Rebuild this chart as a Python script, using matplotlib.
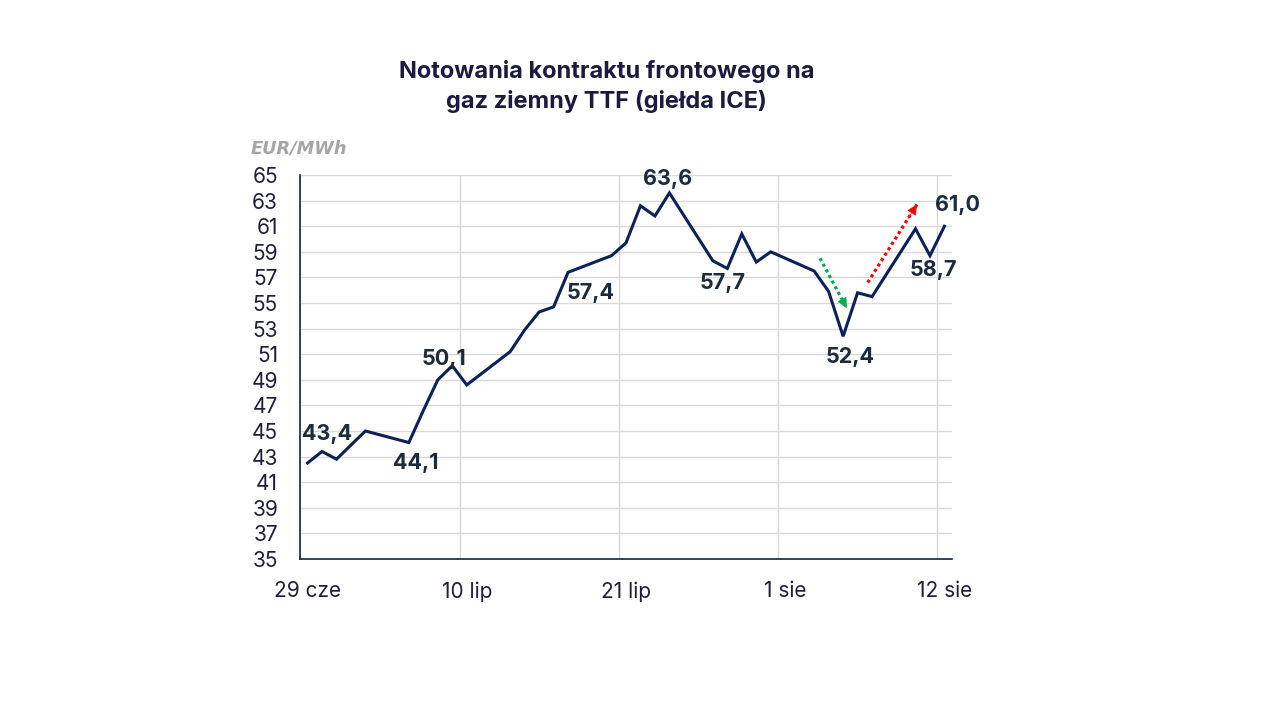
import numpy as np
from matplotlib import pyplot as plt

# notowania TTF, dni liczone od 29 cze (tylko dni sesyjne)
dni = [0, 1, 2, 3, 4, 7, 8, 9, 10, 11, 14, 15, 16, 17, 18, 21, 22, 23, 24, 25,
       28, 29, 30, 31, 32, 35, 36, 37, 38, 39, 42, 43, 44]
ceny = [42.5, 43.4, 42.8, 43.9, 45.0, 44.1, 46.6, 49.0, 50.1, 48.6, 51.2, 52.9,
        54.3, 54.7, 57.4, 58.7, 59.7, 62.6, 61.8, 63.6, 58.3, 57.7, 60.4, 58.2,
        59.0, 57.5, 55.9, 52.4, 55.8, 55.5, 60.8, 58.7, 61.0]

tick_dni = [0, 11, 22, 33, 44]
tick_etykiety = ['29 cze', '10 lip', '21 lip', '1 sie', '12 sie']

# punkty z etykieta i przesuniecie etykiety (piksele)
etyk_idx = [1, 5, 8, 14, 19, 21, 27, 31, 32]
etyk_off = [(5, 17), (7, -20), (-8, 7), (23, -21), (-2, 14), (-5, -15),
            (7, -21), (3, -14), (13, 21)]

# strzalki (poczatek, koniec) w ukladzie danych
strz_zielona = ((35.9, 58.5), (37.75, 54.6))
strz_czerwona = ((39.2, 56.6), (42.6, 62.7))

granat = '#0a2159'
plt.rcParams['font.family'] = ['Inter', 'DejaVu Sans']

fig = plt.figure(figsize=(12.8, 7.2), dpi=100)
ax = fig.add_axes([0.2346, 0.2236, 0.7435 - 0.2346, 0.7569 - 0.2236])

x = np.array(dni) + 0.5
y = np.array(ceny)
ax.plot(x, y, color=granat, lw=2.2, solid_joinstyle='miter', zorder=3)

for i, (dx, dy) in zip(etyk_idx, etyk_off):
    etyk = ('%.1f' % ceny[i]).replace('.', ',')
    ax.annotate(etyk, (x[i], y[i]), xytext=(dx, dy), textcoords='offset pixels',
                ha='center', va='center', fontsize=15.5, fontweight='bold',
                color='#1c2b3b', zorder=4)

for (p0, p1), kol in [(strz_zielona, '#00b050'), (strz_czerwona, '#ff0000')]:
    p0 = np.array(p0)
    p1 = np.array(p1)
    # kropkowany trzon
    ax.plot([p0[0], p1[0]], [p0[1], p1[1]], color=kol, lw=2.3,
            linestyle=(0, (1, 1)), solid_capstyle='butt', zorder=4)
    # grot
    p_h = p0 + (p1 - p0) * 0.82
    ax.annotate('', xy=p1, xytext=p_h,
                arrowprops=dict(arrowstyle='-|>,head_length=0.65,head_width=0.32',
                                color=kol, lw=0.5, shrinkA=0, shrinkB=0), zorder=5)

ax.set_xlim(0, 45)
ax.set_ylim(35, 65)
ax.set_yticks(np.arange(35, 66, 2))
ax.set_xticks(np.array(tick_dni) + 0.5)
ax.set_xticklabels(tick_etykiety)
ax.grid(False)
for t in tick_dni:
    ax.axvline(t, color='#d9d9d9', lw=1, zorder=1)
for t in np.arange(37, 66, 2):
    ax.axhline(t, color='#d9d9d9', lw=1, zorder=1)

ax.tick_params(axis='both', which='both', length=0, labelsize=15,
               labelcolor='#1f1f3a')
ax.tick_params(axis='y', pad=16)
ax.tick_params(axis='x', pad=16)
for s in ['top', 'right']:
    ax.spines[s].set_visible(False)
for s in ['left', 'bottom']:
    ax.spines[s].set_color('#0e2841')
    ax.spines[s].set_linewidth(1.2)

fig.text(0.474, 0.880, 'Notowania kontraktu frontowego na\ngaz ziemny TTF (giełda ICE)',
         ha='center', va='center', fontsize=17, fontweight='bold',
         color='#1b1a40', linespacing=1.35)
fig.text(0.196, 0.794, 'EUR/MWh', ha='left', va='center', fontsize=12.8,
         fontweight='bold', style='italic', color='#a6a6a6',
         family=['DejaVu Sans'])

fig.savefig('out.png', dpi=100)
